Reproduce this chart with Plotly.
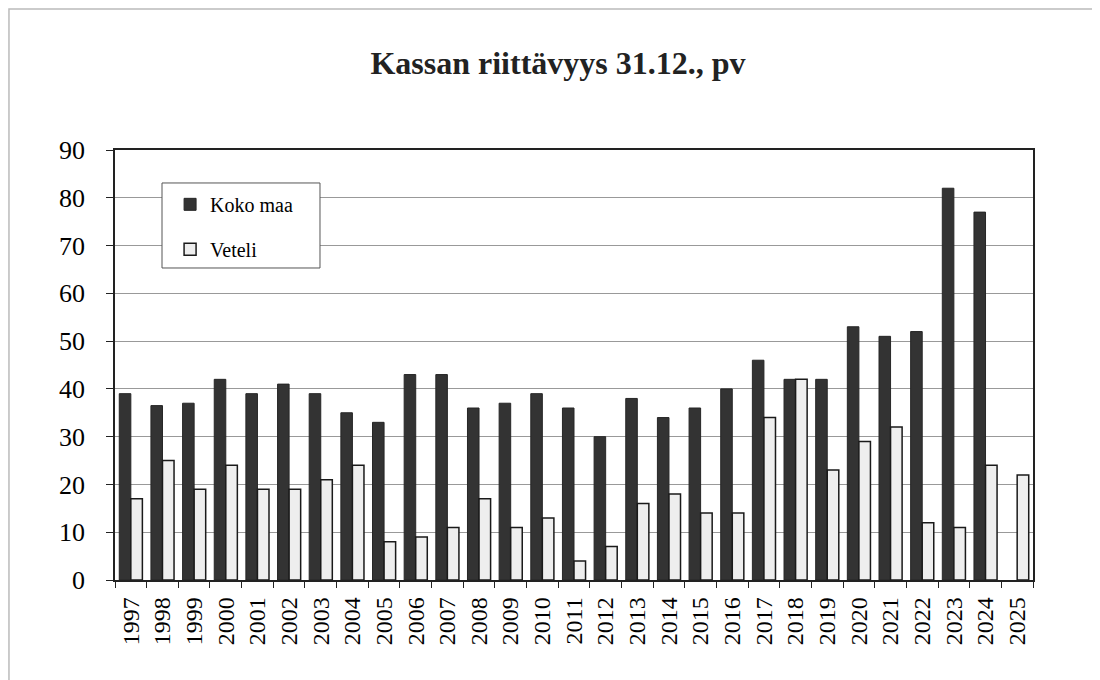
import plotly.graph_objects as go

years = [str(y) for y in range(1997, 2026)]
koko_maa = [39, 36.5, 37, 42, 39, 41, 39, 35, 33, 43, 43, 36, 37, 39, 36, 30,
            38, 34, 36, 40, 46, 42, 42, 53, 51, 52, 82, 77, None]
veteli = [17, 25, 19, 24, 19, 19, 21, 24, 8, 9, 11, 17, 11, 13, 4, 7,
          16, 18, 14, 14, 34, 42, 23, 29, 32, 12, 11, 24, 22]

SERIF = "Liberation Serif, Times New Roman, serif"

fig = go.Figure()
fig.add_trace(go.Bar(
    x=years, y=koko_maa, name="Koko maa", legendgroup="a",
    marker=dict(color="#333333", line=dict(color="#262626", width=1)),
))
fig.add_trace(go.Bar(
    x=years, y=veteli, name="Veteli", legendgroup="b",
    marker=dict(color="#eeeeee", line=dict(color="#1a1a1a", width=1.5)),
))

# page body has an 8px margin, so the figure is offset by 8px
fig.update_layout(
    width=1100, height=680,
    paper_bgcolor="white", plot_bgcolor="white",
    margin=dict(l=107, r=75, t=142, b=108),
    barmode="group", bargap=0.27, bargroupgap=0.0,
    title=dict(text="<b>Kassan riittävyys 31.12., pv</b>", x=0.5, xanchor="center",
               y=0.92, yanchor="middle",
               font=dict(family=SERIF, size=32, color="#222222")),
    font=dict(family=SERIF, size=20, color="black"),
    legend=dict(x=0.06, y=0.919, xanchor="left", yanchor="top",
                bgcolor="rgba(0,0,0,0)", borderwidth=0,
                font=dict(family=SERIF, size=20), tracegroupgap=16),
    xaxis=dict(tickangle=-90, showline=True, linecolor="#222222", linewidth=1.5,
               mirror=True, ticks="outside", tickson="boundaries", ticklen=6,
               ticklabelstandoff=6, tickcolor="#222222",
               tickfont=dict(family=SERIF, size=24)),
    yaxis=dict(range=[0, 90], dtick=10, showgrid=True, gridcolor="#999999",
               gridwidth=1, showline=True, linecolor="#222222", linewidth=1.5,
               mirror=True, ticks="outside", ticklen=7, tickcolor="#222222",
               ticklabelstandoff=16, zeroline=False,
               tickfont=dict(family=SERIF, size=26)),
    shapes=[
        dict(type="rect", xref="paper", yref="paper", x0=-0.1155, x1=1.085,
             y0=-0.3, y1=1.328, line=dict(color="#bbbbbb", width=1.5)),
        dict(type="rect", xref="paper", yref="paper", x0=0.0512, x1=0.2233,
             y0=0.7256, y1=0.9233, fillcolor="white", layer="above",
             line=dict(color="#555555", width=1)),
    ],
)

fig.write_html("out.html")
